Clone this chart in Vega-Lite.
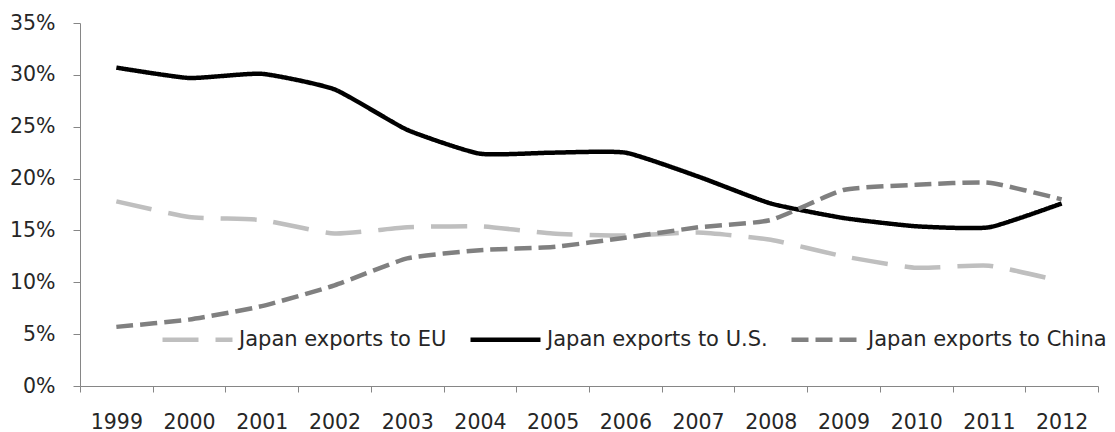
{
  "$schema": "https://vega.github.io/schema/vega-lite/v6.json",
  "width": 1018,
  "height": 363,
  "autosize": {"type": "none"},
  "padding": {"left": 80, "top": 23, "right": 17, "bottom": 46},
  "background": "white",
  "config": {
    "view": {"stroke": null},
    "font": "DejaVu Sans",
    "axis": {"labelFont": "DejaVu Sans", "labelColor": "#262626", "domainColor": "#868686", "tickColor": "#868686", "grid": false, "title": null}
  },
  "data": {
    "values": [
      {"year": "1999", "series": "Japan exports to EU", "v": 0.178},
      {"year": "2000", "series": "Japan exports to EU", "v": 0.163},
      {"year": "2001", "series": "Japan exports to EU", "v": 0.160},
      {"year": "2002", "series": "Japan exports to EU", "v": 0.147},
      {"year": "2003", "series": "Japan exports to EU", "v": 0.153},
      {"year": "2004", "series": "Japan exports to EU", "v": 0.154},
      {"year": "2005", "series": "Japan exports to EU", "v": 0.147},
      {"year": "2006", "series": "Japan exports to EU", "v": 0.145},
      {"year": "2007", "series": "Japan exports to EU", "v": 0.148},
      {"year": "2008", "series": "Japan exports to EU", "v": 0.141},
      {"year": "2009", "series": "Japan exports to EU", "v": 0.125},
      {"year": "2010", "series": "Japan exports to EU", "v": 0.114},
      {"year": "2011", "series": "Japan exports to EU", "v": 0.116},
      {"year": "2012", "series": "Japan exports to EU", "v": 0.101},
      {"year": "1999", "series": "Japan exports to U.S.", "v": 0.307},
      {"year": "2000", "series": "Japan exports to U.S.", "v": 0.297},
      {"year": "2001", "series": "Japan exports to U.S.", "v": 0.301},
      {"year": "2002", "series": "Japan exports to U.S.", "v": 0.286},
      {"year": "2003", "series": "Japan exports to U.S.", "v": 0.247},
      {"year": "2004", "series": "Japan exports to U.S.", "v": 0.224},
      {"year": "2005", "series": "Japan exports to U.S.", "v": 0.225},
      {"year": "2006", "series": "Japan exports to U.S.", "v": 0.225},
      {"year": "2007", "series": "Japan exports to U.S.", "v": 0.202},
      {"year": "2008", "series": "Japan exports to U.S.", "v": 0.176},
      {"year": "2009", "series": "Japan exports to U.S.", "v": 0.162},
      {"year": "2010", "series": "Japan exports to U.S.", "v": 0.154},
      {"year": "2011", "series": "Japan exports to U.S.", "v": 0.153},
      {"year": "2012", "series": "Japan exports to U.S.", "v": 0.176},
      {"year": "1999", "series": "Japan exports to China", "v": 0.057},
      {"year": "2000", "series": "Japan exports to China", "v": 0.064},
      {"year": "2001", "series": "Japan exports to China", "v": 0.077},
      {"year": "2002", "series": "Japan exports to China", "v": 0.097},
      {"year": "2003", "series": "Japan exports to China", "v": 0.123},
      {"year": "2004", "series": "Japan exports to China", "v": 0.131},
      {"year": "2005", "series": "Japan exports to China", "v": 0.134},
      {"year": "2006", "series": "Japan exports to China", "v": 0.143},
      {"year": "2007", "series": "Japan exports to China", "v": 0.153},
      {"year": "2008", "series": "Japan exports to China", "v": 0.160},
      {"year": "2009", "series": "Japan exports to China", "v": 0.189},
      {"year": "2010", "series": "Japan exports to China", "v": 0.194},
      {"year": "2011", "series": "Japan exports to China", "v": 0.196},
      {"year": "2012", "series": "Japan exports to China", "v": 0.180}
    ]
  },
  "mark": {"type": "line", "interpolate": "cardinal", "tension": 0.5, "strokeCap": "butt", "strokeJoin": "round"},
  "encoding": {
    "x": {
      "field": "year", "type": "ordinal",
      "scale": {"type": "band", "paddingInner": 0, "paddingOuter": 0},
      "axis": {"labelAngle": 0, "tickBand": "extent", "tickSize": 6, "labelFontSize": 20.5, "labelPadding": 20, "domainWidth": 1}
    },
    "y": {
      "field": "v", "type": "quantitative",
      "scale": {"domain": [0, 0.35], "nice": false},
      "axis": {"values": [0, 0.05, 0.1, 0.15, 0.2, 0.25, 0.3, 0.35], "format": ".0%", "tickSize": 7, "labelFontSize": 20.5, "labelPadding": 18}
    },
    "color": {
      "field": "series", "type": "nominal",
      "scale": {"domain": ["Japan exports to EU", "Japan exports to U.S.", "Japan exports to China"], "range": ["#bfbfbf", "#000000", "#808080"]},
      "legend": {
        "orient": "none", "legendX": 80, "legendY": 279, "direction": "horizontal",
        "title": null, "symbolType": "stroke", "symbolSize": 4900, "symbolStrokeWidth": 4.5,
        "labelFontSize": 21, "labelColor": "#262626", "labelOffset": 4, "columnPadding": 14, "labelLimit": 400
      }
    },
    "strokeDash": {
      "field": "series", "type": "nominal",
      "scale": {"domain": ["Japan exports to EU", "Japan exports to U.S.", "Japan exports to China"], "range": [[36, 17], [1, 0], [17, 7]]},
      "legend": null
    },
    "strokeWidth": {"value": 4.5}
  }
}
